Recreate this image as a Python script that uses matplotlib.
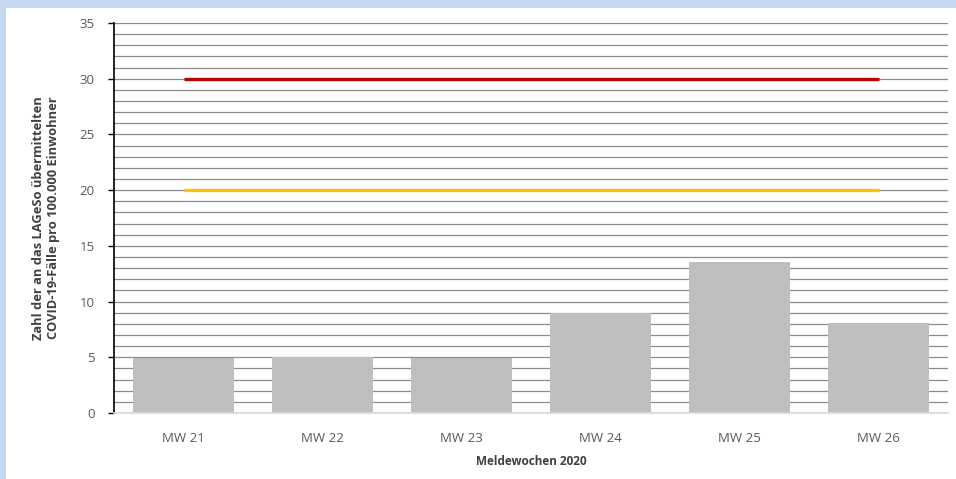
import matplotlib.pyplot as plt
import matplotlib.patches as patches
from matplotlib.ticker import MultipleLocator
import numpy as np

plt.rcParams['font.family'] = ['Open Sans', 'DejaVu Sans']

weeks = ["MW 21", "MW 22", "MW 23", "MW 24", "MW 25", "MW 26"]
cases = [4.9, 5.0, 4.9, 8.95, 13.55, 8.1]
red_limit = [30, 30, 30, 30, 30, 30]
yellow_limit = [20, 20, 20, 20, 20, 20]

fig = plt.figure(figsize=(9.56, 4.79), dpi=100)
fig.patch.set_facecolor("#c6d9f0")
# white panel inside light blue frame
fig.add_artist(patches.Rectangle((6 / 956, 0), 1, 1 - 8 / 479,
                                 transform=fig.transFigure, facecolor="white",
                                 edgecolor="none", zorder=0))

ax = fig.add_axes([114 / 956, 1 - 413 / 479, (948 - 114) / 956, (413 - 23) / 479])
ax.set_facecolor("white")
x = np.arange(len(weeks))

ax.bar(x, cases, width=0.72, color="#bfbfbf", zorder=2)
ax.plot(x, red_limit, color="#c00000", lw=2.4, zorder=3, solid_capstyle="butt")
ax.plot(x, yellow_limit, color="#ffc000", lw=2.4, zorder=3, solid_capstyle="butt")

ax.set_xlim(-0.5, 5.5)
ax.set_ylim(0, 35)
ax.yaxis.set_major_locator(MultipleLocator(5))
ax.yaxis.set_minor_locator(MultipleLocator(1))
ax.grid(axis="y", which="both", color="#8c8c8c", lw=0.9, zorder=1)
ax.set_axisbelow(True)

ax.set_xticks(x)
ax.set_xticklabels(weeks)
ax.tick_params(axis="x", length=0, pad=14, labelsize=9.5, labelcolor="#595959")
ax.tick_params(axis="y", which="major", length=4, width=1, color="black",
               pad=10, labelsize=9.5, labelcolor="#595959")
ax.tick_params(axis="y", which="minor", length=0)

for s in ["top", "right"]:
    ax.spines[s].set_visible(False)
ax.spines["left"].set_color("black")
ax.spines["left"].set_linewidth(1.2)
ax.spines["bottom"].set_color("#d9d9d9")
ax.spines["bottom"].set_linewidth(1.2)

ax.set_xlabel("Meldewochen 2020", fontsize=8.5, fontweight="bold",
              color="#404040", labelpad=7)
ax.set_ylabel("Zahl der an das LAGeSo übermittelten\nCOVID-19-Fälle pro 100.000 Einwohner",
              fontsize=9.3, fontweight="bold", color="#404040", labelpad=14,
              linespacing=1.15)

fig.savefig("out.png", dpi=100, facecolor=fig.get_facecolor())
